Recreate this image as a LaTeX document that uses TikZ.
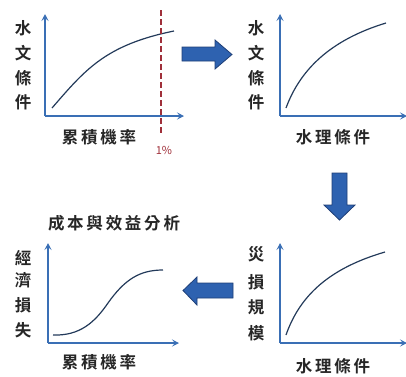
\documentclass[tikz,border=0pt]{standalone}
\usepackage{fontspec}
\setmainfont{Noto Sans CJK TC}[BoldFont={Noto Sans CJK TC Bold}]
\newfontfamily\cjk{Noto Sans CJK TC}[BoldFont={Noto Sans CJK TC Bold}]
\usetikzlibrary{arrows.meta}
\definecolor{axisblue}{HTML}{3A6FB5}
\definecolor{curvenavy}{HTML}{233A5A}
\definecolor{arrowfill}{HTML}{2E62B0}
\definecolor{arrowedge}{HTML}{1F3F77}
\definecolor{dashred}{HTML}{A0303A}
\tikzset{
  axis/.style={draw=axisblue, line width=1.4pt, -{Stealth[length=7pt,width=7pt,inset=3pt]}},
  curve/.style={draw=curvenavy, line width=1.2pt},
  lbl/.style={font=\cjk\bfseries\fontsize{16.5}{16.5}\selectfont, inner sep=0pt, text=black!85},
  bigarrow/.style={fill=arrowfill, draw=arrowedge, line width=0.8pt, line join=miter},
}
\begin{document}
\begin{tikzpicture}[x=1pt,y=-1pt]
\useasboundingbox (0,0) rectangle (406,376);
% Panel 1
\coordinate (o1) at (45,116);
\coordinate (y1) at (45,14);
\coordinate (x1) at (184,116);
\draw[axis] (o1) -- (y1);
\draw[axis] (o1) -- (x1);
\draw[curve] (52,108) .. controls (85,70) and (105,45) .. (174,31);
\coordinate (d1) at (161,10);
\coordinate (d2) at (161,135);
\draw[dashred, line width=1.3pt, dash pattern=on 6pt off 3pt] (d1) -- (d2);
\node[font=\fontsize{11}{11}\selectfont, text=dashred, inner sep=0pt] (p1) at (164,150) {1\%};
\node[lbl] (a1) at (23,28) {水};
\node[lbl] (a2) at (23,53) {文};
\node[lbl] (a3) at (23,78) {條};
\node[lbl] (a4) at (23,102) {件};
\node[lbl] (b1) at (99,137) {累\,積\,機\,率};
% Panel 2
\coordinate (o2) at (280,116);
\draw[axis] (o2) -- (280,14);
\draw[axis] (o2) -- (407,116);
\draw[curve] (286,108) .. controls (300,70) and (330,40) .. (386,23);
\node[lbl] (c1) at (256,28) {水};
\node[lbl] (c2) at (256,53) {文};
\node[lbl] (c3) at (256,78) {條};
\node[lbl] (c4) at (256,102) {件};
\node[lbl] (e1) at (333,137) {水\,理\,條\,件};
% Panel 4 (bottom right)
\coordinate (o4) at (280,343);
\draw[axis] (o4) -- (280,243);
\draw[axis] (o4) -- (407,343);
\draw[curve] (286,335) .. controls (300,295) and (330,268) .. (385,252);
\node[lbl] (f1) at (256,254) {災};
\node[lbl] (f2) at (256,282) {損};
\node[lbl] (f3) at (256,307) {規};
\node[lbl] (f4) at (256,333) {模};
\node[lbl] (g1) at (333,366) {水\,理\,條\,件};
% Panel 3 (bottom left)
\coordinate (o3) at (48,343);
\draw[axis] (o3) -- (48,243);
\draw[axis] (o3) -- (179,343);
\draw[curve] (53,335) .. controls (80,336) and (95,322) .. (108,303) .. controls (125,279) and (140,270) .. (163,270);
\node[lbl] (h1) at (23,258) {經};
\node[lbl] (h2) at (23,280) {濟};
\node[lbl] (h3) at (23,305) {損};
\node[lbl] (h4) at (23,330) {失};
\node[lbl] (t1) at (114,223) {成\,本\,與\,效\,益\,分\,析};
\node[lbl] (k1) at (99,362) {累\,積\,機\,率};
% Big arrows
\draw[bigarrow] (182,47) -- (215,47) -- (215,40) -- (232,54.5) -- (215,69) -- (215,61) -- (182,61) -- cycle;
\draw[bigarrow] (332,173) -- (347,173) -- (347,205) -- (355,205) -- (339.5,220) -- (324,205) -- (332,205) -- cycle;
\draw[bigarrow] (233,283) -- (197,283) -- (197,277) -- (183,290.5) -- (197,305) -- (197,298) -- (233,298) -- cycle;
\end{tikzpicture}
\end{document}
